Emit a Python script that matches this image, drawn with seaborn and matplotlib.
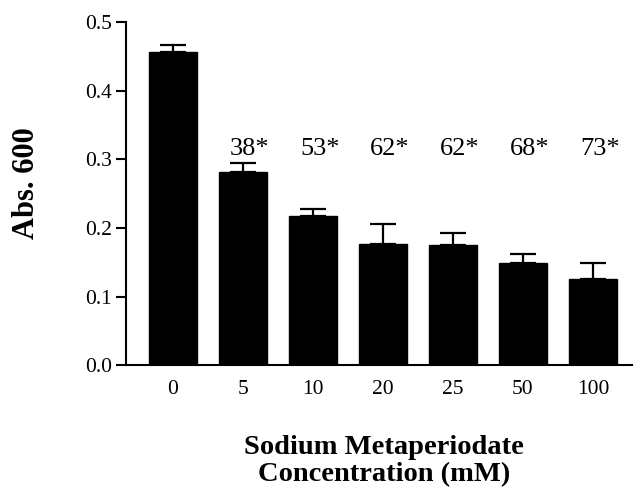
import matplotlib
matplotlib.use("Agg")
import matplotlib.pyplot as plt
import seaborn as sns
import numpy as np
import pandas as pd

categories = ["0", "5", "10", "20", "25", "50", "100"]
absorbance = [0.457, 0.282, 0.2175, 0.177, 0.175, 0.149, 0.126]
errors = [0.010, 0.013, 0.010, 0.029, 0.017, 0.013, 0.023]
annotations = ["", "38*", "53*", "62*", "62*", "68*", "73*"]
annot_level = 0.316
yticks = [0.0, 0.1, 0.2, 0.3, 0.4, 0.5]

sns.set_style("ticks")
plt.rcParams["font.family"] = ["Liberation Serif", "DejaVu Serif"]
plt.rcParams["text.color"] = "black"
plt.rcParams["axes.labelcolor"] = "black"

df = pd.DataFrame({"conc": categories, "abs": absorbance})

fig = plt.figure(figsize=(6.36, 4.91), dpi=100)
ax = fig.add_axes([0.1981, 0.2566, 0.7956, 0.6976])

sns.barplot(data=df, x="conc", y="abs", order=categories, color="black",
            width=0.69, errorbar=None, saturation=1, ax=ax, edgecolor="black")

xpos = np.arange(len(categories))
ax.errorbar(xpos, absorbance, yerr=[np.zeros(len(errors)), errors], fmt="none",
            ecolor="black", elinewidth=1.6, capsize=9.4, capthick=1.6)

for x, txt in zip(xpos, annotations):
    if txt:
        ax.annotate(txt, xy=(x, annot_level), xytext=(7, 0), textcoords="offset pixels",
                    ha="center", va="center", fontsize=19, color="black")

ax.set_xlim(-0.671, 6.557)
ax.set_ylim(0, 0.5)
ax.set_yticks(yticks)
ax.set_yticklabels([f"{t:.1f}" for t in yticks])

sns.despine(ax=ax)
for s in ["left", "bottom"]:
    ax.spines[s].set_linewidth(1.5)
    ax.spines[s].set_color("black")

ax.tick_params(axis="y", length=7, width=1.5, pad=3, labelsize=15.5, colors="black")
ax.tick_params(axis="x", length=0, pad=11, labelsize=15.5, colors="black")

ax.set_xlabel("Sodium Metaperiodate\nConcentration (mM)", fontsize=20.5, fontweight="bold",
              linespacing=1.1, color="black")
ax.xaxis.set_label_coords(0.51, -0.205)
ax.set_ylabel("Abs. 600", fontsize=22, fontweight="bold", color="black")
ax.yaxis.set_label_coords(-0.168, 0.531)

fig.savefig("out.png", dpi=100)
